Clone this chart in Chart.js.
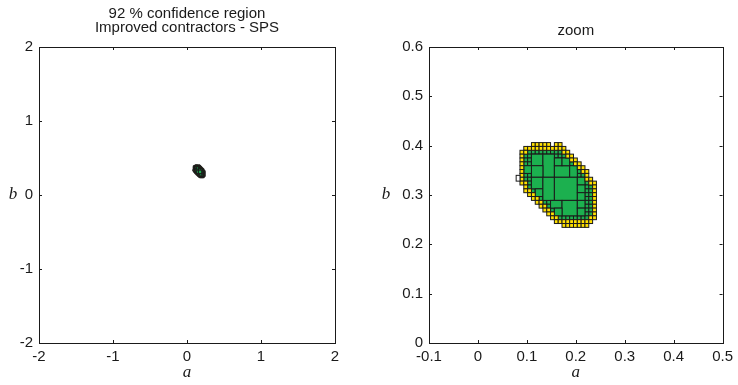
<!DOCTYPE html>
<html>
<head>
<meta charset="utf-8">
<script src="https://cdn.jsdelivr.net/npm/chart.js@4"></script>
<style>
  html, body { margin: 0; padding: 0; background: #fff; }
  #wrap { position: relative; width: 738px; height: 385px; }
  canvas { position: absolute; top: 0; }
</style>
</head>
<body>
<div id="wrap">
  <canvas id="fullChart" width="369" height="385" style="left:0"></canvas>
  <canvas id="zoomChart" width="369" height="385" style="left:369px"></canvas>
</div>
<script>
// PAVING DATA - box corners are counted in steps of 1/128 on both axes (a and b)
const GRID = 1 / 128;

// boundary boxes (yellow): [row, first column, last column]
const yellowRuns = [
    [51, 14, 18], [51, 20, 21],
    [50, 12, 22],
    [49, 11, 12], [49, 22, 23],
    [48, 11, 11], [48, 23, 24],
    [47, 11, 11], [47, 24, 25],
    [46, 11, 11], [46, 25, 26],
    [45, 11, 11], [45, 26, 27],
    [44, 11, 11], [44, 27, 28],
    [43, 11, 11], [43, 28, 28],
    [42, 11, 11], [42, 28, 29],
    [41, 11, 12], [41, 29, 30],
    [40, 12, 12], [40, 30, 30],
    [39, 12, 13], [39, 30, 30],
    [38, 13, 14], [38, 30, 30],
    [37, 14, 15], [37, 30, 30],
    [36, 15, 16], [36, 30, 30],
    [35, 16, 17], [35, 30, 30],
    [34, 17, 18], [34, 30, 30],
    [33, 18, 19], [33, 30, 30],
    [32, 19, 20], [32, 29, 30],
    [31, 20, 29],
    [30, 22, 28]
];

// small inner boxes (green): [row, first column, last column]
const greenRuns = [
    [49, 13, 21], [48, 12, 22], [47, 12, 23], [46, 12, 24], [45, 12, 25],
    [44, 12, 26], [43, 12, 27], [42, 12, 27], [41, 13, 28], [40, 13, 29],
    [39, 14, 29], [38, 15, 29], [37, 16, 29], [36, 17, 29], [35, 18, 29],
    [34, 19, 29], [33, 20, 29], [32, 21, 28]
];

// bigger inner boxes (green): [col from, col to, row from, row to]
const greenBoxes = [
    [14, 17, 46, 49], [17, 20, 43, 49], [14, 17, 43, 46], [20, 24, 43, 46],
    [24, 26, 43, 46], [12, 14, 44, 46], [20, 22, 46, 48], [22, 24, 46, 48],
    [14, 17, 40, 43], [15, 17, 38, 40], [17, 20, 37, 43], [20, 26, 37, 43],
    [19, 22, 35, 37], [22, 26, 33, 37], [20, 22, 33, 35], [26, 28, 41, 43],
    [26, 28, 39, 41], [26, 28, 37, 39], [26, 28, 35, 37], [26, 28, 33, 35]
];

// boxes found outside (white): [col from, col to, row from, row to]
const whiteBoxes = [[10, 11, 42, 43.5]];

// AXES
const fullTicks = [-2, -1, 0, 1, 2];
const zoomTicksA = [-0.1, 0, 0.1, 0.2, 0.3, 0.4, 0.5];
const zoomTicksB = [0, 0.1, 0.2, 0.3, 0.4, 0.5, 0.6];
const fullTitle = ['92 % confidence region', 'Improved contractors - SPS'];
const zoomTitle = 'zoom';

const GREEN = '#1cb04f';
const YELLOW = '#ffe000';
const EDGE = '#1c1c1c';
const SERIF = '"Liberation Serif", "Times New Roman", serif';

Chart.defaults.font.family = '"Liberation Sans", Arial, sans-serif';
Chart.defaults.font.size = 15;
Chart.defaults.color = '#1a1a1a';

// DRAW THE BOXES WITH THE CHART SCALES
const pavingPlugin = {
    id: 'paving',
    beforeDatasetsDraw(chart) {
        const { ctx, chartArea, scales: { x, y } } = chart;
        ctx.save();
        ctx.beginPath();
        ctx.rect(chartArea.left, chartArea.top, chartArea.width, chartArea.height);
        ctx.clip();
        ctx.lineWidth = 1;
        ctx.strokeStyle = EDGE;

        function box(c0, c1, r0, r1, fill) {
            const x0 = x.getPixelForValue(c0 * GRID);
            const x1 = x.getPixelForValue(c1 * GRID);
            const y0 = y.getPixelForValue(r1 * GRID);
            const y1 = y.getPixelForValue(r0 * GRID);
            ctx.fillStyle = fill;
            ctx.fillRect(x0, y0, x1 - x0, y1 - y0);
            ctx.strokeRect(x0, y0, x1 - x0, y1 - y0);
        }

        greenRuns.forEach(([r, c0, c1]) => {
            for (let c = c0; c <= c1; c++) box(c, c + 1, r, r + 1, GREEN);
        });
        greenBoxes.forEach(([c0, c1, r0, r1]) => box(c0, c1, r0, r1, GREEN));
        yellowRuns.forEach(([r, c0, c1]) => {
            for (let c = c0; c <= c1; c++) box(c, c + 1, r, r + 1, YELLOW);
        });
        whiteBoxes.forEach(([c0, c1, r0, r1]) => box(c0, c1, r0, r1, '#ffffff'));
        ctx.restore();
    }
};

// FRAME WITH INWARD TICKS ON ALL FOUR SIDES + HORIZONTAL "b" LABEL
const framePlugin = {
    id: 'frame',
    afterDraw(chart, args, opts) {
        const { ctx, chartArea: { left, right, top, bottom }, scales: { x, y } } = chart;
        const len = 3;
        ctx.save();
        ctx.strokeStyle = '#1a1a1a';
        ctx.lineWidth = 1;
        ctx.beginPath();
        x.ticks.forEach(t => {
            const px = Math.round(x.getPixelForValue(t.value)) + 0.5;
            ctx.moveTo(px, bottom); ctx.lineTo(px, bottom - len);
            ctx.moveTo(px, top); ctx.lineTo(px, top + len);
        });
        y.ticks.forEach(t => {
            const py = Math.round(y.getPixelForValue(t.value)) + 0.5;
            ctx.moveTo(left, py); ctx.lineTo(left + len, py);
            ctx.moveTo(right, py); ctx.lineTo(right - len, py);
        });
        ctx.stroke();
        ctx.strokeRect(Math.round(left) + 0.5, Math.round(top) + 0.5, Math.round(right - left), Math.round(bottom - top));

        ctx.fillStyle = '#1a1a1a';
        ctx.font = 'italic 17px ' + SERIF;
        ctx.textAlign = 'center';
        ctx.textBaseline = 'middle';
        ctx.fillText(opts.text, opts.x, (top + bottom) / 2);
        ctx.restore();
    }
};

function makeChart(canvasId, cfg) {
    return new Chart(document.getElementById(canvasId), {
        type: 'scatter',
        data: { datasets: [] },
        plugins: [pavingPlugin, framePlugin],
        options: {
            responsive: false,
            animation: false,
            devicePixelRatio: 1,
            layout: { padding: { left: 0, right: cfg.padRight, top: 0, bottom: 0 } },
            plugins: {
                legend: { display: false },
                tooltip: { enabled: false },
                title: {
                    display: true,
                    fullSize: false, // CENTER THE TITLE OVER THE PLOT AREA
                    text: cfg.title,
                    color: '#1a1a1a',
                    font: { size: 15, weight: 'normal', lineHeight: '14px' },
                    padding: cfg.titlePadding
                },
                frame: { text: 'b', x: cfg.bX }
            },
            scales: {
                x: {
                    type: 'linear',
                    min: cfg.xTicks[0],
                    max: cfg.xTicks[cfg.xTicks.length - 1],
                    grid: { display: false, drawTicks: false },
                    border: { display: false },
                    afterBuildTicks: s => { s.ticks = cfg.xTicks.map(v => ({ value: v })); },
                    afterFit: s => { s.height = 42; },
                    ticks: { padding: 5, maxRotation: 0, autoSkip: false, callback: v => String(v) },
                    title: {
                        display: true,
                        text: 'a',
                        color: '#1a1a1a',
                        font: { family: SERIF, style: 'italic', size: 17, lineHeight: '16px' },
                        padding: { top: 0, bottom: 4 }
                    }
                },
                y: {
                    type: 'linear',
                    min: cfg.yTicks[0],
                    max: cfg.yTicks[cfg.yTicks.length - 1],
                    grid: { display: false, drawTicks: false },
                    border: { display: false },
                    afterBuildTicks: s => { s.ticks = cfg.yTicks.map(v => ({ value: v })); },
                    afterFit: s => { s.width = cfg.yWidth; },
                    ticks: { padding: 6, autoSkip: false, callback: v => String(v) }
                }
            }
        }
    });
}

makeChart('fullChart', {
    title: fullTitle,
    titlePadding: { top: 7, bottom: 12 },
    xTicks: fullTicks,
    yTicks: fullTicks,
    yWidth: 39,
    padRight: 34,
    bX: 13
});

makeChart('zoomChart', {
    title: zoomTitle,
    titlePadding: { top: 24, bottom: 9 },
    xTicks: zoomTicksA,
    yTicks: zoomTicksB,
    yWidth: 60,
    padRight: 13,
    bX: 17
});
</script>
</body>
</html>
